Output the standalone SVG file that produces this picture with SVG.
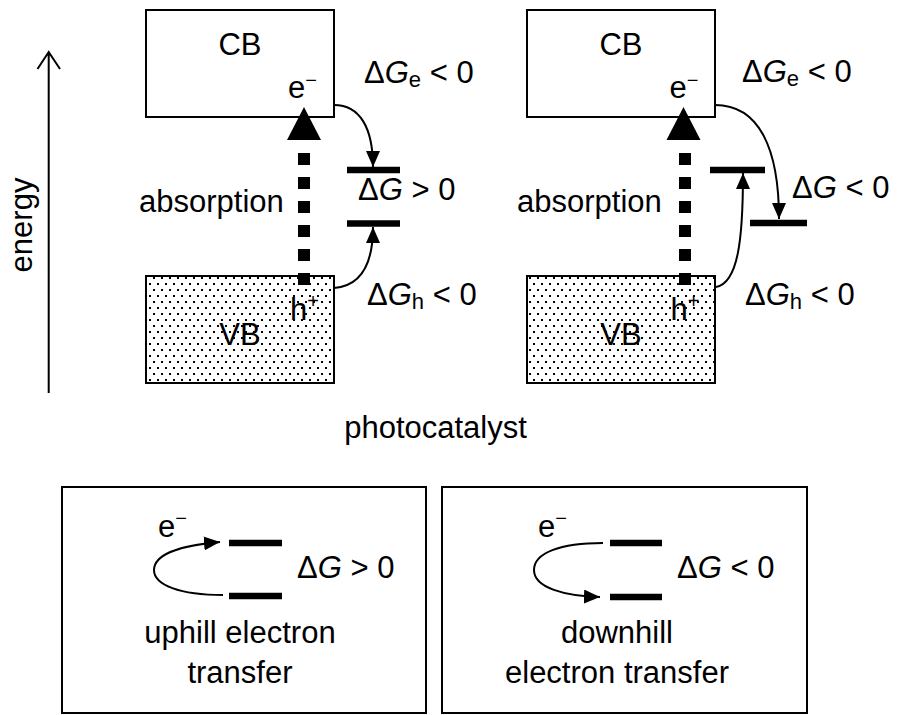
<svg xmlns="http://www.w3.org/2000/svg" width="897" height="715" viewBox="0 0 897 715">
<style>
text{font-family:"Liberation Sans",Arial,sans-serif;font-size:31px;fill:#000}
.box{fill:#fff;stroke:#000;stroke-width:2}
.vb{fill:url(#dots);stroke:#000;stroke-width:2}
.lvl{stroke:#000;stroke-width:6.5;fill:none}
.cur{stroke:#000;stroke-width:2;fill:none;marker-end:url(#ah)}
.abs{stroke:#000;stroke-width:12;stroke-dasharray:12 12;fill:none}
.sup{font-size:20px}
.sub{font-size:22px}
.it{font-style:italic}
</style>
<defs>
<pattern id="dots" width="8" height="12" patternUnits="userSpaceOnUse">
<rect width="8" height="12" fill="#fff"/>
<rect x="1" y="1" width="2" height="2" fill="#000"/>
<rect x="5" y="7" width="2" height="2" fill="#000"/>
</pattern>
<marker id="ah" markerUnits="userSpaceOnUse" markerWidth="16" markerHeight="14" refX="16" refY="7" orient="auto" viewBox="0 0 16 14">
<path d="M0,0 L16,7 L0,14 z" fill="#000"/>
</marker>
</defs>

<g id="energy-axis">
<path d="M48.7,393 V52 M37.5,69 L48.7,52 L60,69" stroke="#000" stroke-width="2" fill="none"/>
<text transform="translate(32,225) rotate(-90)" text-anchor="middle">energy</text>
</g>

<g id="cb-left"><rect class="box" x="146" y="10" width="188" height="107"/><text x="240" y="55" text-anchor="middle">CB</text><text x="288" y="98">e<tspan class="sup" dy="-11.5">−</tspan></text></g>
<g id="vb-left"><rect class="vb" x="146" y="276" width="188" height="107"/><text x="240" y="345" text-anchor="middle">VB</text><text x="290" y="320">h<tspan class="sup" dy="-12">+</tspan></text></g>
<g id="cb-right"><rect class="box" x="527" y="10" width="188" height="107"/><text x="621" y="55" text-anchor="middle">CB</text><text x="669.5" y="98">e<tspan class="sup" dy="-11.5">−</tspan></text></g>
<g id="vb-right"><rect class="vb" x="527" y="276" width="188" height="107"/><text x="621" y="345" text-anchor="middle">VB</text><text x="670.5" y="320">h<tspan class="sup" dy="-12">+</tspan></text></g>

<g id="levels-left"><path class="lvl" d="M347,170 H400 M347,223.5 H400"/><text x="358" y="200">Δ<tspan class="it">G</tspan> &gt; 0</text></g>
<g id="levels-right"><path class="lvl" d="M710,170 H765 M750,223 H807"/><text x="792" y="198">Δ<tspan class="it">G</tspan> &lt; 0</text></g>

<g id="labels">
<text x="139" y="212">absorption</text>
<text x="517" y="212">absorption</text>
<text x="364" y="83">Δ<tspan class="it">G</tspan><tspan class="sub" dy="4">e</tspan><tspan dy="-4"> &lt; 0</tspan></text>
<text x="742" y="82">Δ<tspan class="it">G</tspan><tspan class="sub" dy="4">e</tspan><tspan dy="-4"> &lt; 0</tspan></text>
<text x="367" y="305">Δ<tspan class="it">G</tspan><tspan class="sub" dy="4">h</tspan><tspan dy="-4"> &lt; 0</tspan></text>
<text x="745" y="305">Δ<tspan class="it">G</tspan><tspan class="sub" dy="4">h</tspan><tspan dy="-4"> &lt; 0</tspan></text>
<text x="435.5" y="438" text-anchor="middle">photocatalyst</text>
</g>

<g id="legend-uphill">
<rect class="box" x="62" y="487" width="364" height="226"/>
<path class="lvl" d="M229,543 H282 M229,596 H282"/>
<text x="158" y="537">e<tspan class="sup" dy="-12">−</tspan></text>
<text x="297" y="578">Δ<tspan class="it">G</tspan> &gt; 0</text>
<text x="240" y="643" text-anchor="middle">uphill electron</text>
<text x="240" y="683" text-anchor="middle">transfer</text>
</g>
<g id="legend-downhill">
<rect class="box" x="442" y="487" width="365" height="226"/>
<path class="lvl" d="M610,543 H662 M610,597 H662"/>
<text x="538" y="537">e<tspan class="sup" dy="-12">−</tspan></text>
<text x="677" y="578">Δ<tspan class="it">G</tspan> &lt; 0</text>
<text x="617" y="643" text-anchor="middle">downhill</text>
<text x="617" y="683" text-anchor="middle">electron transfer</text>
</g>

<g id="connectors">
<path class="abs" d="M304,153 V285"/>
<path d="M304,107 L287,140 L321,140 z" fill="#000"/>
<path class="abs" d="M685,153 V285"/>
<path d="M683.5,107 L666.5,140 L700.5,140 z" fill="#000"/>
<path class="cur" d="M334,105 C360,105 373,128 373,167"/>
<path class="cur" d="M334,288 C360,286 373,265 373,227"/>
<path class="cur" d="M715,105 C760,105 779,150 779,219"/>
<path class="cur" d="M716,287 C738,283 743,240 743,173"/>
<path class="cur" d="M223,595 C180,595 154,585 154,570 C154,553 185,545 220,542"/>
<path class="cur" d="M603,543 C560,543 534,553 534,570 C534,588 565,596 600,597"/>
</g>
</svg>
